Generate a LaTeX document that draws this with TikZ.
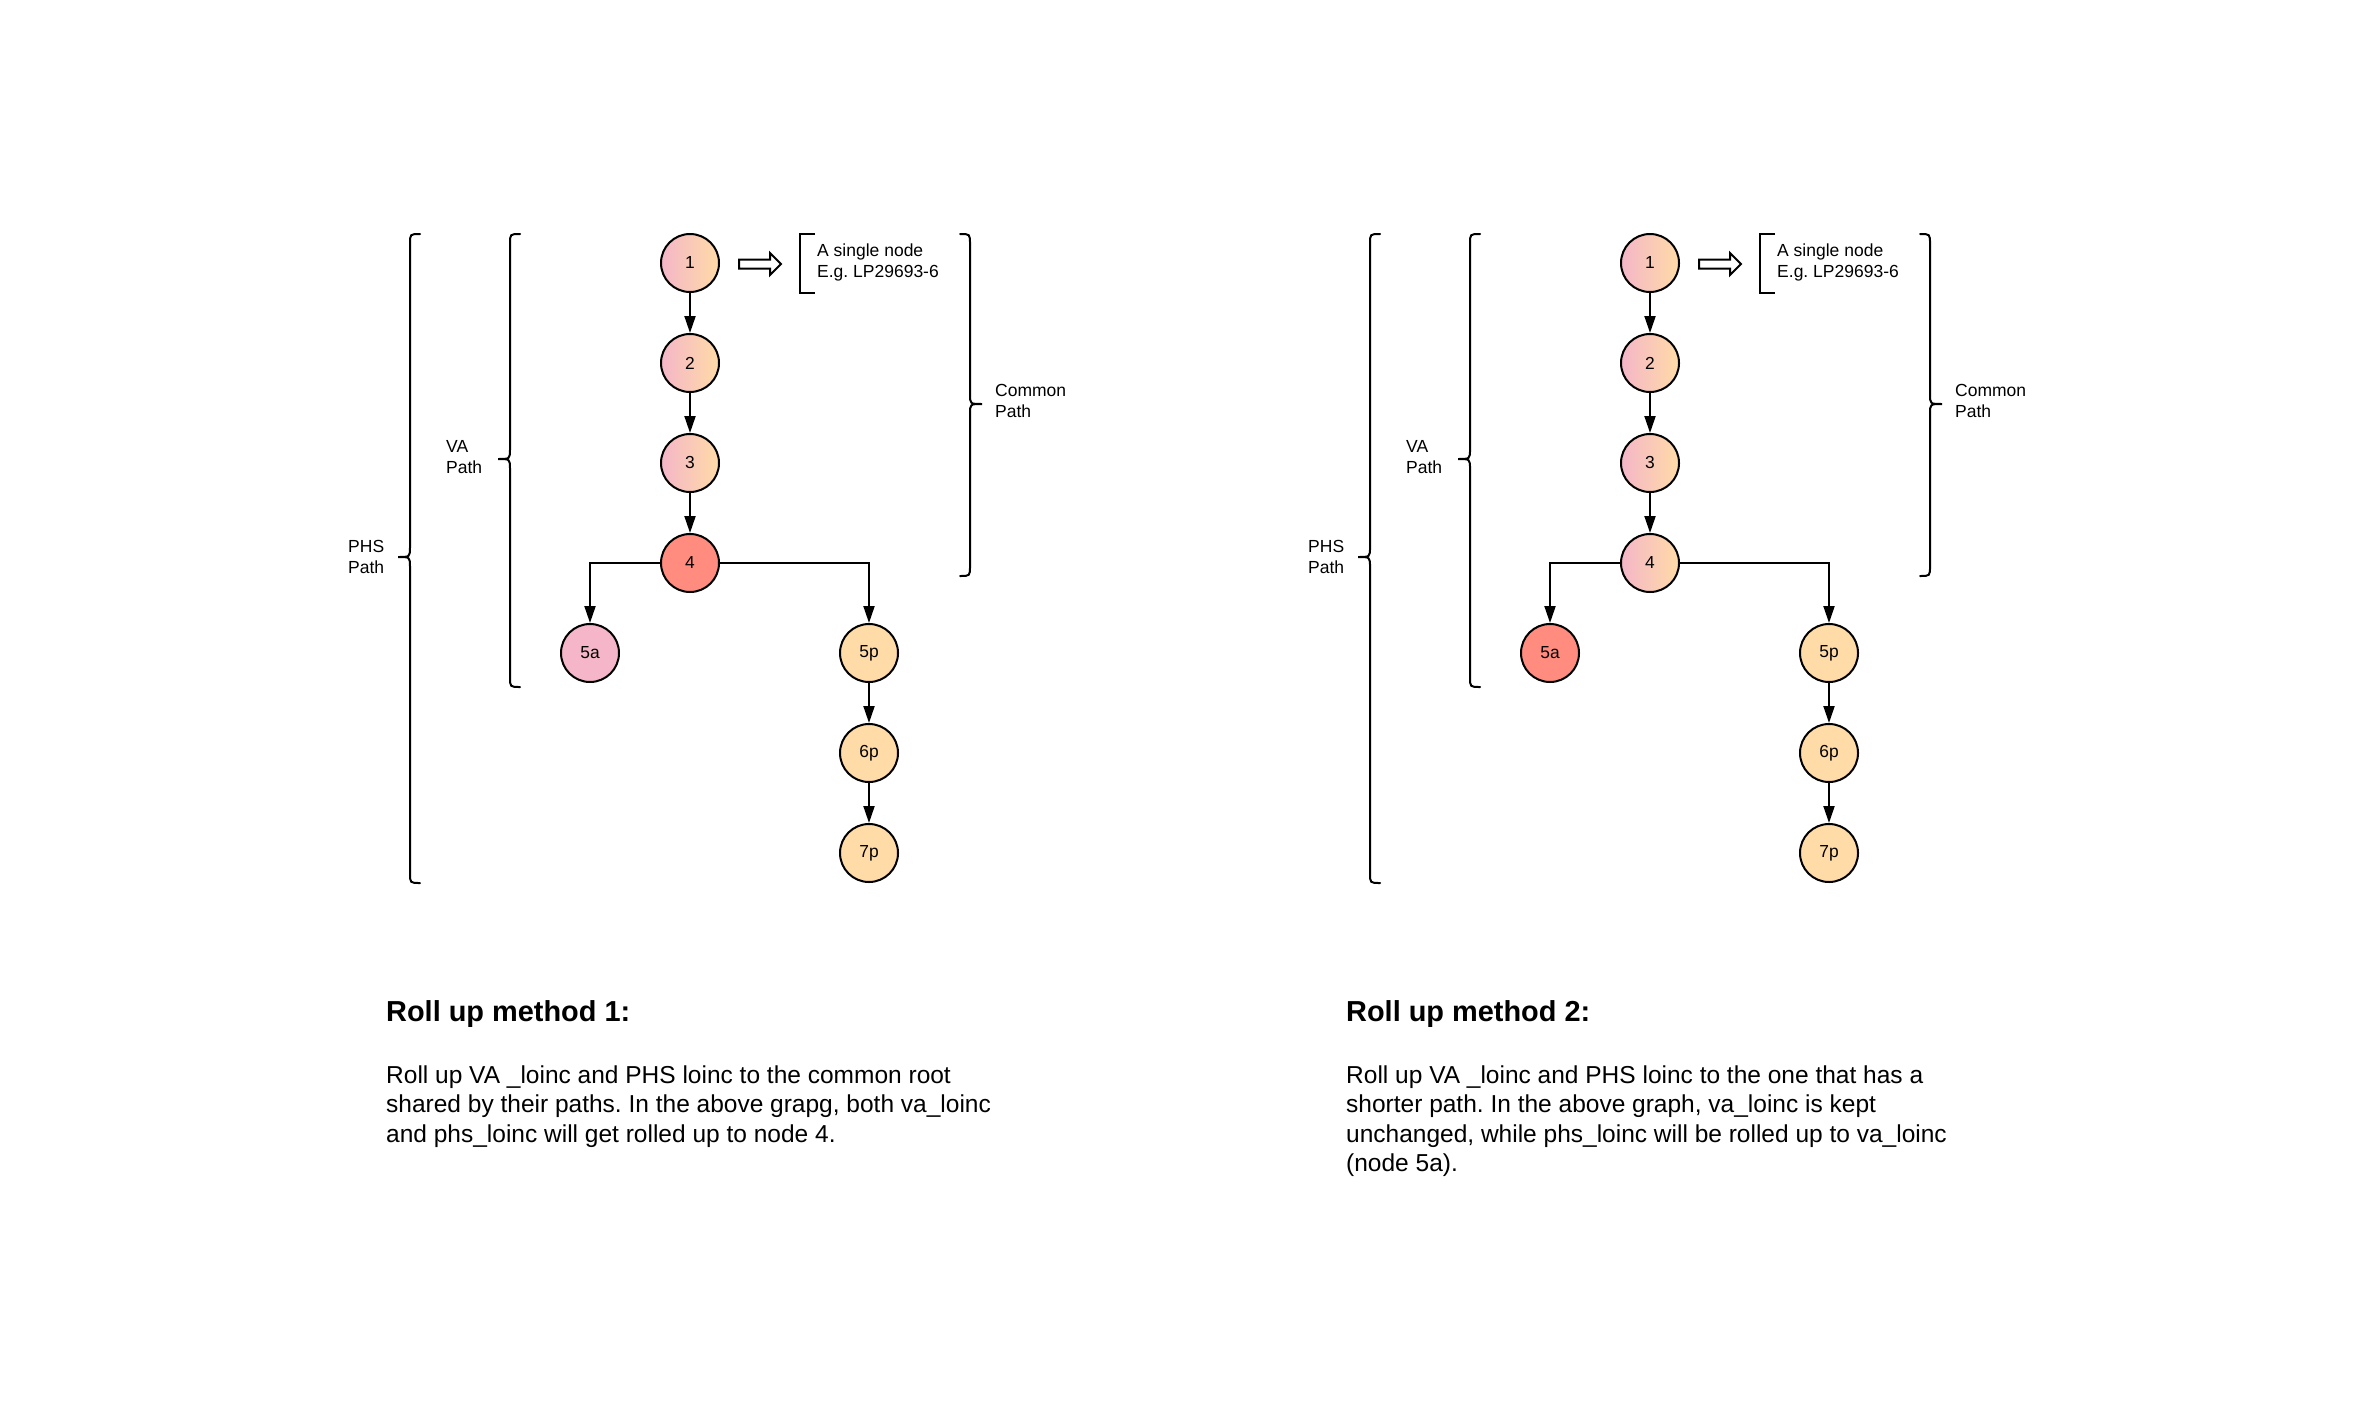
\documentclass[tikz,border=0pt]{standalone}
\usepackage{fontspec}
\setmainfont{Liberation Sans}
\usetikzlibrary{arrows.meta}
\frenchspacing
\definecolor{gpink}{HTML}{F4B6C8}
\definecolor{gpeach}{HTML}{FFDBA7}
\definecolor{salmon}{HTML}{FF8C7E}
\tikzset{
 circ/.style={circle, draw=black, line width=2pt, minimum size=58pt, inner sep=0pt, font=\fontsize{17.4}{21}\selectfont},
 grad/.style={circ, left color=gpink, right color=gpeach},
 hot/.style={circ, fill=salmon},
 pinkn/.style={circ, fill=gpink},
 peachn/.style={circ, fill=gpeach},
 edge/.style={line width=2pt, -{Triangle[length=17pt,width=11pt]}},
 brc/.style={line width=2pt, line cap=round},
 lbl/.style={anchor=base west, inner sep=0pt, font=\fontsize{17.5}{21}\selectfont},
 headtxt/.style={anchor=base west, inner sep=0pt, font=\bfseries\fontsize{28.9}{34}\selectfont},
 bodytxt/.style={anchor=base west, inner sep=0pt, font=\fontsize{24.5}{29.5}\selectfont},
}
% left-facing brace: x, top, tip, bottom
\newcommand\mybraceL[4]{%
 \draw[brc] ({#1+10},#2) .. controls (#1,#2) .. (#1,{#2+10}) -- (#1,{#3-10})
  .. controls (#1,#3) .. ({#1-12},#3) .. controls (#1,#3) .. (#1,{#3+10})
  -- (#1,{#4-10}) .. controls (#1,#4) .. ({#1+10},#4);}
% right-facing brace
\newcommand\mybraceR[4]{%
 \draw[brc] ({#1-10},#2) .. controls (#1,#2) .. (#1,{#2+10}) -- (#1,{#3-10})
  .. controls (#1,#3) .. ({#1+12},#3) .. controls (#1,#3) .. (#1,{#3+10})
  -- (#1,{#4-10}) .. controls (#1,#4) .. ({#1-10},#4);}
\begin{document}
\begin{tikzpicture}[x=1pt,y=-1pt]
\useasboundingbox (0,0) rectangle (2376,1408);
\foreach \ox/\m in {0/1,960/2}{
 \begin{scope}[xshift=\ox pt]
  % braces
  \mybraceL{410}{234}{557}{883}
  \mybraceL{510}{234}{459}{687}
  \mybraceR{970}{234}{404}{576}
  \node[lbl] (phsA\m) at (348,552) {PHS};
  \node[lbl] (phsB\m) at (348,573) {Path};
  \node[lbl] (vaA\m) at (446,452) {VA};
  \node[lbl] (vaB\m) at (446,473) {Path};
  \node[lbl] (cmA\m) at (995,396) {Common};
  \node[lbl] (cmB\m) at (995,417) {Path};
  % hollow arrow
  \draw[line width=2pt, line join=miter] (739,259.5) -- (770,259.5) -- (770,253) -- (781,264) -- (770,275) -- (770,268.5) -- (739,268.5) -- cycle;
  % bracket
  \draw[line width=2pt] (815,234) -- (800,234) -- (800,293) -- (815,293);
  \node[lbl] (snA\m) at (817,256) {A single node};
  \node[lbl] (snB\m) at (817,277) {E.g. LP29693-6};
 \end{scope}
}
% left diagram nodes
\node[grad] (a1) at (690,263) {1};
\node[grad] (a2) at (690,363) {2};
\node[grad] (a3) at (690,463) {3};
\node[hot] (a4) at (690,563) {4};
\node[pinkn] (a5a) at (590,653) {5a};
\node[peachn] (a5p) at (869,653) {5p};
\node[peachn] (a6p) at (869,753) {6p};
\node[peachn] (a7p) at (869,853) {7p};
\draw[edge] (a1) -- (a2);
\draw[edge] (a2) -- (a3);
\draw[edge] (a3) -- (a4);
\draw[edge] (a4) -| (a5a);
\draw[edge] (a4) -| (a5p);
\draw[edge] (a5p) -- (a6p);
\draw[edge] (a6p) -- (a7p);
% right diagram nodes
\node[grad] (b1) at (1650,263) {1};
\node[grad] (b2) at (1650,363) {2};
\node[grad] (b3) at (1650,463) {3};
\node[grad] (b4) at (1650,563) {4};
\node[hot] (b5a) at (1550,653) {5a};
\node[peachn] (b5p) at (1829,653) {5p};
\node[peachn] (b6p) at (1829,753) {6p};
\node[peachn] (b7p) at (1829,853) {7p};
\draw[edge] (b1) -- (b2);
\draw[edge] (b2) -- (b3);
\draw[edge] (b3) -- (b4);
\draw[edge] (b4) -| (b5a);
\draw[edge] (b4) -| (b5p);
\draw[edge] (b5p) -- (b6p);
\draw[edge] (b6p) -- (b7p);
% texts
\node[headtxt] (h1) at (386,1021) {Roll up method 1:};
\node[bodytxt] (t1a) at (386,1083) {Roll up VA \_loinc and PHS loinc to the common root};
\node[bodytxt] (t1b) at (386,1112.5) {shared by their paths. In the above grapg, both va\_loinc};
\node[bodytxt] (t1c) at (386,1142) {and phs\_loinc will get rolled up to node 4.};
\node[headtxt] (h2) at (1346,1021) {Roll up method 2:};
\node[bodytxt] (t2a) at (1346,1083) {Roll up VA \_loinc and PHS loinc to the one that has a};
\node[bodytxt] (t2b) at (1346,1112.5) {shorter path. In the above graph, va\_loinc is kept};
\node[bodytxt] (t2c) at (1346,1142) {unchanged, while phs\_loinc will be rolled up to va\_loinc};
\node[bodytxt] (t2d) at (1346,1171.5) {(node 5a).};
\end{tikzpicture}
\end{document}
